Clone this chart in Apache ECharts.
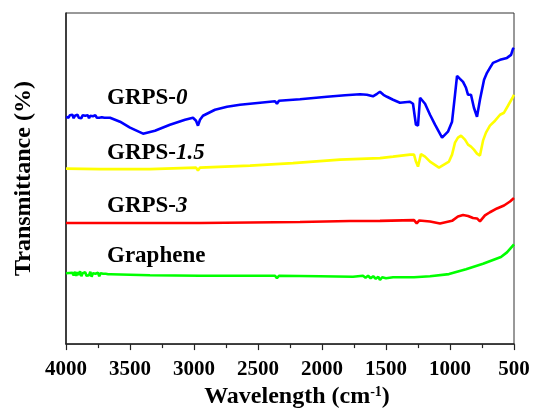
<!DOCTYPE html>
<html><head><meta charset="utf-8">
<script src="https://cdn.jsdelivr.net/npm/echarts@6/dist/echarts.min.js"></script>
<style>html,body{margin:0;padding:0;background:#fff}#c{width:533px;height:414px}</style>
</head><body><div id="c"></div>
<script>
const xTicks = [4000, 3500, 3000, 2500, 2000, 1500, 1000, 500];
const seriesNames = ['GRPS-0', 'GRPS-1.5', 'GRPS-3', 'Graphene'];
const seriesColors = ['#0000ff', '#ffff00', '#ff0000', '#00ff00'];

const grps0Wave = [4000,3990,3980,3970,3960,3950,3940,3930,3920,3910,3900,3890,3880,3870,3860,3850,3840,3830,3820,3810,3800,3790,3780,3770,3760,3750,3740,3730,3720,3710,3700,3690,3680,3656,3578,3500,3398,3305,3188,3070,3008,2984,2969,2953,2930,2836,2742,2641,2484,2367,2352,2336,2172,1961,1820,1703,1650,1602,1570,1547,1520,1492,1445,1391,1313,1289,1275,1266,1250,1234,1195,1156,1117,1062,1016,984,961,945,922,898,875,859,836,813,789,766,734,711,688,664,609,555,523,508,500];
const grps0T = [228,228.5,227,229.5,227.5,230,226.5,229,227,230,227,229,226.5,229.5,227.5,229,227,229.5,226.5,229,227.5,228.5,227,229.5,227,228.5,227,229,227.5,228,227,228,227,227,223,217,211,214,220,225,227,224,219,225,229,235,238,240,242,243.5,241,244,245.5,248,249.5,250.5,250,248.5,251,253,250,248,245,242,243,241,228,220,219,247,241,230,220,207,213,223,250,269,266,263,257,250,250,237,228,245,265,272,277,282,285,287,290,296,297];

const grps15Wave = [4000,3734,3344,2984,2969,2953,2562,2227,1859,1547,1445,1313,1281,1266,1250,1227,1195,1156,1086,1008,984,961,938,914,883,859,836,813,789,766,742,719,688,648,609,578,547,508,500];
const grps15T = [176,175.5,175.5,177,174,177,179,181.5,185,186.5,188,190,190,183,178,190.5,188,183,177,183,190,202,207,209,205,200,198,195,191,189,204,212,219,224,230,232,239,248,250];

const grps3Wave = [4000,3734,3344,2984,2969,2953,2562,2172,1781,1547,1281,1260,1240,1156,1078,984,938,898,859,820,789,766,727,688,633,578,531,500];
const grps3T = [121.5,121.5,121.5,121.5,120.5,121.5,122,122.5,123.5,123.6,124.3,121,124,123,121,123.6,128,129.5,128.5,126.4,126,123,129,132.2,136,139,143,146.5];

const grapheneWave = [4000,3950,3940,3930,3920,3910,3900,3890,3880,3870,3860,3850,3840,3830,3820,3810,3800,3790,3780,3770,3760,3750,3740,3730,3720,3710,3700,3690,3680,3670,3660,3650,3500,3344,2953,2562,2367,2352,2336,2016,1758,1680,1660,1640,1620,1600,1580,1560,1547,1530,1500,1445,1281,1156,1008,875,742,602,555,500];
const grapheneT = [71,71.5,69,72.5,68.5,72,69.5,73,68,71,69.5,72,68.5,70.5,69,72.5,67.5,71,69.5,70.5,68.5,71.5,68,71,69,70.5,68.5,70.5,69.5,70,69,70,69.5,69,68.5,68.5,68.5,66,68.5,68,67.5,68.5,66.5,68.5,66,68,65.5,67.5,64.3,67,66,67,67,68,70.2,75,80.5,87.4,92,100];

const waves = [grps0Wave, grps15Wave, grps3Wave, grapheneWave];
const trans = [grps0T, grps15T, grps3T, grapheneT];

const chart = echarts.init(document.getElementById('c'), null, {renderer: 'canvas'});
const serif = '"Liberation Serif", "Times New Roman", serif';

const series = seriesNames.map((n, i) => ({
  name: n,
  type: 'line',
  showSymbol: false,
  symbol: 'none',
  animation: false,
  lineStyle: {color: seriesColors[i], width: 2.6},
  data: waves[i].map((w, k) => [w, trans[i][k]])
}));

function labelText(name) {
  const idx = name.indexOf('-');
  if (idx < 0) return '{n|' + name + '}';
  return '{n|' + name.slice(0, idx + 1) + '}{i|' + name.slice(idx + 1) + '}';
}
const labelY = [99, 154, 207, 257];
const graphics = seriesNames.map((n, i) => ({
  type: 'text',
  left: 107,
  top: labelY[i] - 12,
  style: {
    text: labelText(n),
    rich: {
      n: {fontFamily: serif, fontWeight: 'bold', fontSize: 23, fill: '#000'},
      i: {fontFamily: serif, fontWeight: 'bold', fontStyle: 'italic', fontSize: 23, fill: '#000'}
    }
  }
}));

chart.setOption({
  animation: false,
  backgroundColor: '#fff',
  grid: {left: 66, right: 19, top: 13, bottom: 69, show: true, borderColor: '#333', borderWidth: 1},
  xAxis: {
    type: 'value',
    inverse: true,
    min: 500,
    max: 4000,
    interval: 500,
    name: '{a|Wavelength (cm}{s|-1}{a|)}',
    nameLocation: 'middle',
    nameGap: 37,
    nameTextStyle: {
      padding: [0, 0, 0, 14],
      rich: {
        a: {fontFamily: serif, fontWeight: 'bold', fontSize: 24, color: '#000'},
        s: {fontFamily: serif, fontWeight: 'bold', fontSize: 14, color: '#000', verticalAlign: 'top', padding: [0, 0, 8, 0]}
      }
    },
    axisLine: {lineStyle: {color: '#222', width: 1.5}},
    axisTick: {show: true, inside: false, length: 6, lineStyle: {color: '#222', width: 1.2}},
    minorTick: {show: true, splitNumber: 2, length: 4, lineStyle: {color: '#222', width: 1.2}},
    splitLine: {show: false},
    minorSplitLine: {show: false},
    axisLabel: {
      margin: 15,
      fontFamily: serif, fontWeight: 'bold', fontSize: 21, color: '#000',
      formatter: v => xTicks.indexOf(v) >= 0 ? String(v) : ''
    }
  },
  yAxis: {
    type: 'value',
    min: 0,
    max: 332,
    name: 'Transmittance (%)',
    nameLocation: 'middle',
    nameGap: 30,
    nameTextStyle: {fontFamily: serif, fontWeight: 'bold', fontSize: 24, color: '#000'},
    axisLine: {show: true, lineStyle: {color: '#222', width: 1.5}},
    axisTick: {show: false},
    axisLabel: {show: false},
    splitLine: {show: false}
  },
  graphic: graphics,
  series: series
});
</script>
</body></html>
